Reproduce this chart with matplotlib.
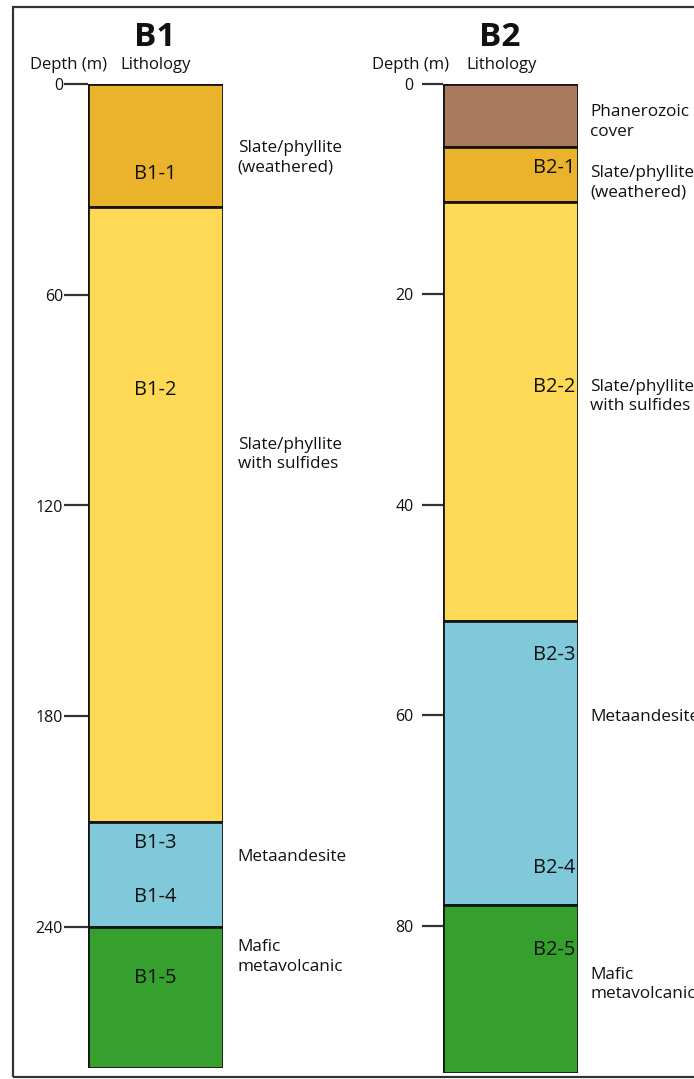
import matplotlib
matplotlib.use('Agg')
import matplotlib.pyplot as plt
from matplotlib.patches import Rectangle

plt.rcParams['font.family'] = ['Open Sans', 'DejaVu Sans']
plt.rcParams['text.color'] = '#111111'

# Borehole B1 (depth in m)
b1_units = ['weathered', 'sulfide', 'andesite', 'mafic']
b1_tops = [0, 35, 210, 240]
b1_bases = [35, 210, 240, 280]
b1_samples = ['B1-1', 'B1-2', 'B1-3', 'B1-4', 'B1-5']
b1_sample_depths = [25.5, 87, 216, 231.5, 254.5]
b1_desc = ['Slate/phyllite\n(weathered)', 'Slate/phyllite\nwith sulfides',
           'Metaandesite', 'Mafic\nmetavolcanic']
b1_desc_depths = [21, 105.5, 220, 248.5]
b1_ticks = [0, 60, 120, 180, 240]

# Borehole B2 (depth in m)
b2_units = ['cover', 'weathered', 'sulfide', 'andesite', 'mafic']
b2_tops = [0, 6, 11.2, 51, 78]
b2_bases = [6, 11.2, 51, 78, 94]
b2_samples = ['B2-1', 'B2-2', 'B2-3', 'B2-4', 'B2-5']
b2_sample_depths = [8, 28.8, 54.3, 74.5, 82.3]
b2_desc = ['Phanerozoic\ncover', 'Slate/phyllite\n(weathered)',
           'Slate/phyllite\nwith sulfides', 'Metaandesite', 'Mafic\nmetavolcanic']
b2_desc_depths = [3.6, 9.4, 29.7, 60.2, 85.6]
b2_ticks = [0, 20, 40, 60, 80]

colors = {
    'cover': '#a97a5e',
    'weathered': '#ebb22c',
    'sulfide': '#fdd955',
    'andesite': '#80c9da',
    'mafic': '#35a02d',
}

W, H = 694, 1079
fig = plt.figure(figsize=(W / 100, H / 100), dpi=100)


def px_axes(x0, x1, y0, y1):
    return fig.add_axes([x0 / W, 1 - y1 / H, (x1 - x0) / W, (y1 - y0) / H])


def draw_column(ax, units, tops, bases, ticks, tick_len, tick_pad):
    thick = [b - t for t, b in zip(tops, bases)]
    ax.bar(0.5, thick, bottom=tops, width=1.0,
           color=[colors[u] for u in units], edgecolor='#151515', linewidth=2.0)
    ax.set_xlim(0, 1)
    ax.set_ylim(bases[-1], 0)
    for s in ax.spines.values():
        s.set_visible(False)
    ax.set_xticks([])
    ax.set_yticks(ticks)
    ax.tick_params(axis='y', length=tick_len, width=1.6, color='#333333',
                   pad=tick_pad, labelsize=11.5, labelcolor='#111111')


# B1 column
ax1 = px_axes(88, 223, 84, 84 + 280 * 3.5125)
draw_column(ax1, b1_units, b1_tops, b1_bases, b1_ticks, 17, 1)
for name, d in zip(b1_samples, b1_sample_depths):
    ax1.text(0.5, d, name, ha='center', va='center', fontsize=14.5)
for txt, d in zip(b1_desc, b1_desc_depths):
    ax1.text(1.11, d, txt, transform=ax1.get_yaxis_transform(),
             ha='left', va='center', fontsize=12.3, linespacing=1.3)

# B2 column
ax2 = px_axes(443, 578, 84, 84 + 94 * 10.52)
draw_column(ax2, b2_units, b2_tops, b2_bases, b2_ticks, 15, 6)
for name, d in zip(b2_samples, b2_sample_depths):
    ax2.text(0.98, d, name, ha='right', va='center', fontsize=14.5)
for txt, d in zip(b2_desc, b2_desc_depths):
    ax2.text(1.09, d, txt, transform=ax2.get_yaxis_transform(),
             ha='left', va='center', fontsize=12.3, linespacing=1.3)

# Headers
fig.text(155 / W, 1 - 37 / H, 'B1', ha='center', va='center',
         fontsize=24, fontweight='bold')
fig.text(500 / W, 1 - 37 / H, 'B2', ha='center', va='center',
         fontsize=24, fontweight='bold')
for x0, x1 in [(30, 120), (372, 466)]:
    fig.text(x0 / W, 1 - 65 / H, 'Depth (m)', ha='left', va='center', fontsize=12)
    fig.text(x1 / W, 1 - 65 / H, 'Lithology', ha='left', va='center', fontsize=12)

# Outer frame
fig.patches.append(Rectangle((13 / W, 1 - 1077 / H), 700 / W, 1070 / H,
                             transform=fig.transFigure, fill=False,
                             edgecolor='#333333', linewidth=1.6))

fig.savefig('out.png', dpi=100)
